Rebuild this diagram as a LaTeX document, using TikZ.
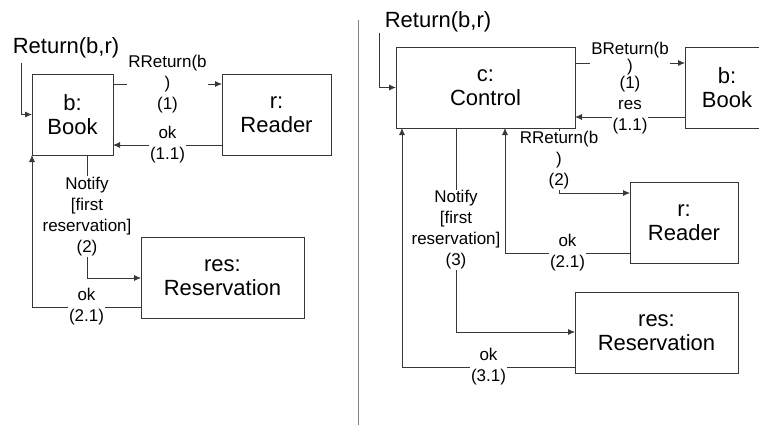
\documentclass[tikz,border=0pt]{standalone}
\usepackage{fontspec}
\setmainfont{Liberation Sans}
\usetikzlibrary{arrows.meta, positioning}
\definecolor{linegray}{RGB}{55,55,55}
\definecolor{rulegray}{RGB}{130,130,130}

\begin{document}
\begin{tikzpicture}[x=1pt, y=-1pt,
        obj/.style={rectangle, draw=linegray, line width=0.8pt, align=center, minimum height=81pt, inner sep=0pt, outer sep=0pt, font=\fontsize{22}{24}\selectfont},
        msg/.style={fill=white, align=center, inner sep=1pt, font=\fontsize{17}{21}\selectfont},
        trig/.style={font=\fontsize{22}{24}\selectfont},
        arrow/.style={-{Latex[length=7pt, width=6pt]}, line width=0.8pt, draw=linegray}
    ]
        \useasboundingbox (0,0) rectangle (759,425);

        \node[obj, minimum width=81pt] (book) at (72.5,114.5) {b:\\Book};
        \node[obj, minimum width=109pt] (reader) at (276.5,114.5) {r:\\Reader};
        \node[obj, minimum width=163pt] (resv) at (222.5,277.5) {res:\\Reservation};
        \node[trig] (retL) at (66,48) {Return(b,r)};
        \coordinate (retA) at (21,63);
        \coordinate (notA) at (87,278);
        \coordinate (okA) at (32,307);

        \draw[arrow] (retA) |- (book.west);
        \draw[arrow] ([yshift=30.5pt]book.east) -- node[msg] {RReturn(b\\)\\(1)} ([yshift=30.5pt]reader.west);
        \draw[arrow] ([yshift=-30.5pt]reader.west) -- node[msg] {ok\\(1.1)} ([yshift=-30.5pt]book.east);
        \draw[arrow] (book.south -| notA) -- node[msg] {Notify\\{[first}\\reservation]\\(2)} (notA) -- (resv.west |- notA);
        \draw[arrow] (resv.west |- okA) -- node[msg] {ok\\(2.1)} (okA) -- (book.south west);

        \draw[rulegray, line width=1pt] (358,20) -- (358,425);

        \node[obj, minimum width=179pt] (ctrl) at (485.5,87.5) {c:\\Control};
        \node[obj, minimum width=84pt] (bookR) at (727,87.5) {b:\\Book};
        \node[obj, minimum width=108pt] (readerR) at (684,222.5) {r:\\Reader};
        \node[obj, minimum width=163pt] (resvR) at (656.5,332.5) {res:\\Reservation};
        \node[trig] (retR) at (438,22) {Return(b,r)};
        \coordinate (retB) at (379,33);
        \coordinate (rrB) at (559,193);
        \coordinate (okB) at (505,253);
        \coordinate (notB) at (456,332);
        \coordinate (okC) at (402,367);

        \draw[arrow] (retB) |- (ctrl.west);
        \draw[arrow] ([yshift=24.5pt]ctrl.east) -- node[msg, yshift=-4pt, font=\fontsize{17}{13.5}\selectfont] {BReturn(b\\)\\(1)} ([yshift=24.5pt]bookR.west);
        \draw[arrow] ([yshift=-29.5pt]bookR.west) -- node[msg] {res\\(1.1)} ([yshift=-29.5pt]ctrl.east);
        \draw[arrow] (ctrl.south -| rrB) -- node[msg] {RReturn(b\\)\\(2)} (rrB) -- (readerR.west |- rrB);
        \draw[arrow] (readerR.west |- okB) -- node[msg] {ok\\(2.1)} (okB) -- (ctrl.south -| okB);
        \draw[arrow] (ctrl.south -| notB) -- node[msg] {Notify\\{[first}\\reservation]\\(3)} (notB) -- (resvR.west |- notB);
        \draw[arrow] (resvR.west |- okC) -- node[msg] {ok\\(3.1)} (okC) -- (ctrl.south -| okC);
    \end{tikzpicture}
\end{document}
